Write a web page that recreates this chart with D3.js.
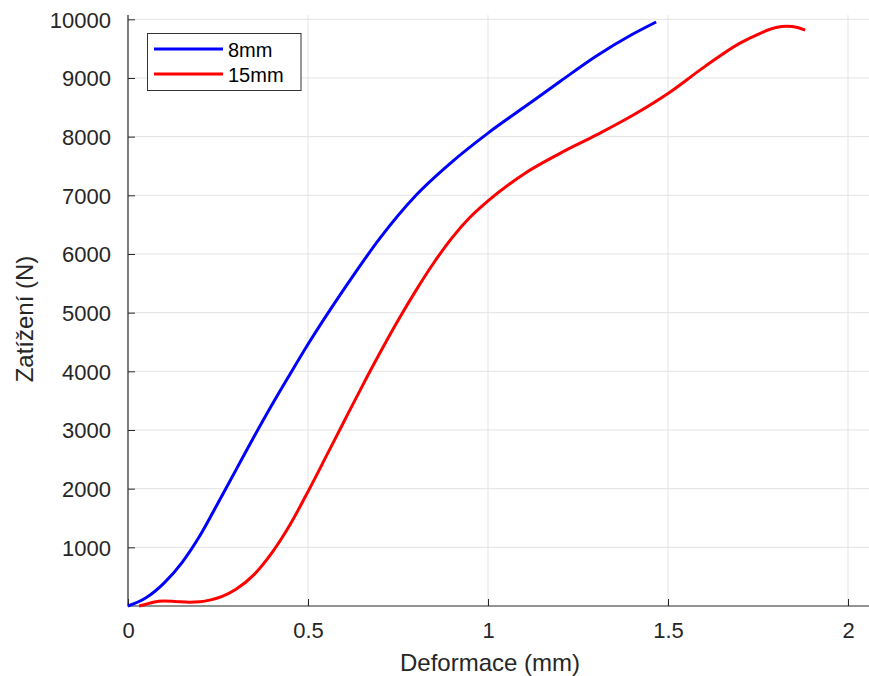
<!DOCTYPE html>
<html>
<head>
<meta charset="utf-8">
<script src="https://cdn.jsdelivr.net/npm/d3@7"></script>
<style>
  html, body { margin: 0; padding: 0; background: #fff; }
  svg { display: block; font-family: "Liberation Sans", Arial, Helvetica, sans-serif; }
</style>
</head>
<body>
<svg id="chart" width="869" height="676"></svg>
<script>
// ---- data ----
const seriesNames = ["8mm", "15mm"];
const seriesColors = ["#0000ff", "#ff0000"];
const x8mm = [0, 0.05, 0.1, 0.15, 0.2, 0.25, 0.3, 0.35, 0.4, 0.45, 0.5, 0.6, 0.7, 0.8, 0.9, 1.0, 1.1, 1.2, 1.3, 1.4, 1.467];
const y8mm = [0, 140, 390, 740, 1200, 1755, 2320, 2885, 3430, 3950, 4460, 5400, 6270, 7000, 7570, 8060, 8500, 8940, 9370, 9740, 9954];
const x15mm = [0.031, 0.05, 0.07, 0.1, 0.13, 0.17, 0.2, 0.23, 0.26, 0.3, 0.35, 0.4, 0.45, 0.5, 0.55, 0.6, 0.65, 0.7, 0.75, 0.8, 0.85, 0.9, 0.95, 1.0, 1.1, 1.2, 1.3, 1.4, 1.5, 1.6, 1.7, 1.75, 1.8, 1.83, 1.86, 1.881];
const y15mm = [0, 30, 65, 85, 78, 65, 72, 105, 160, 285, 535, 910, 1385, 1950, 2545, 3145, 3740, 4315, 4865, 5380, 5855, 6275, 6625, 6905, 7365, 7715, 8025, 8355, 8735, 9185, 9595, 9745, 9860, 9880, 9860, 9815];
const xTicks = [0, 0.5, 1, 1.5, 2];
const yTicks = [1000, 2000, 3000, 4000, 5000, 6000, 7000, 8000, 9000, 10000];
const xLabel = "Deformace (mm)";
const yLabel = "Zatížení (N)";

// ---- layout ----
const svg = d3.select("#chart");
const pLeft = 128, pRight = 869, pTop = 15, pBottom = 606;
const x = d3.scaleLinear().domain([0, (pRight - pLeft) / 360]).range([pLeft, pRight]);
const y = d3.scaleLinear().domain([0, 10000]).range([pBottom, pBottom - 586.7]);
const axisColor = "#262626";
const gridColor = "#e3e3e3";

// grid
svg.append("g").selectAll("line").data(xTicks.filter(d => d > 0)).join("line")
  .attr("x1", d => x(d)).attr("x2", d => x(d)).attr("y1", pTop).attr("y2", pBottom)
  .attr("stroke", gridColor).attr("stroke-width", 1);
svg.append("g").selectAll("line").data(yTicks).join("line")
  .attr("x1", pLeft).attr("x2", pRight).attr("y1", d => y(d)).attr("y2", d => y(d))
  .attr("stroke", gridColor).attr("stroke-width", 1);

// axes
const xAxis = d3.axisBottom(x).tickValues(xTicks).tickSize(-7).tickPadding(0)
  .tickFormat(d => d3.format("~g")(d));
const gx = svg.append("g").attr("transform", `translate(0,${pBottom})`).call(xAxis);
gx.select(".domain").remove();
gx.selectAll(".tick line").attr("stroke", axisColor);
gx.selectAll(".tick text").attr("fill", axisColor).attr("font-size", 22)
  .attr("y", 32).attr("dy", 0);

const yAxis = d3.axisLeft(y).tickValues(yTicks).tickSize(-7).tickPadding(0)
  .tickFormat(d3.format("d"));
const gy = svg.append("g").attr("transform", `translate(${pLeft},0)`).call(yAxis);
gy.select(".domain").remove();
gy.selectAll(".tick line").attr("stroke", axisColor);
gy.selectAll(".tick text").attr("fill", axisColor).attr("font-size", 22)
  .attr("x", -17).attr("dy", "0.36em");
svg.selectAll(".tick text").attr("font-family", "'Liberation Sans', Arial, sans-serif");

svg.append("line").attr("x1", pLeft).attr("x2", pLeft).attr("y1", pTop).attr("y2", pBottom + 0.5)
  .attr("stroke", axisColor).attr("stroke-width", 1.2);
svg.append("line").attr("x1", pLeft).attr("x2", pRight).attr("y1", pBottom).attr("y2", pBottom)
  .attr("stroke", axisColor).attr("stroke-width", 1.2);

// labels
svg.append("text").attr("x", 490).attr("y", 671).attr("text-anchor", "middle")
  .attr("font-size", 24).attr("fill", axisColor).text(xLabel);
svg.append("text").attr("transform", "translate(33,319) rotate(-90)").attr("text-anchor", "middle")
  .attr("font-size", 24).attr("fill", axisColor).text(yLabel);

// lines
const series = [
  { name: seriesNames[0], color: seriesColors[0], pts: x8mm.map((d, i) => [d, y8mm[i]]) },
  { name: seriesNames[1], color: seriesColors[1], pts: x15mm.map((d, i) => [d, y15mm[i]]) }
];
const line = d3.line().x(d => x(d[0])).y(d => y(d[1])).curve(d3.curveMonotoneX);
svg.append("g").selectAll("path").data(series).join("path")
  .attr("d", d => line(d.pts)).attr("fill", "none")
  .attr("stroke", d => d.color).attr("stroke-width", 3).attr("stroke-linejoin", "round");

// legend
const lg = svg.append("g");
lg.append("rect").attr("x", 147.5).attr("y", 33.5).attr("width", 153.5).attr("height", 57)
  .attr("fill", "#fff").attr("stroke", "#333").attr("stroke-width", 1);
series.forEach((s, i) => {
  const cy = 49 + i * 25;
  lg.append("line").attr("x1", 154).attr("x2", 223).attr("y1", cy).attr("y2", cy)
    .attr("stroke", s.color).attr("stroke-width", 3);
  lg.append("text").attr("x", 228).attr("y", cy + 8).attr("font-size", 20)
    .attr("fill", "#000").text(s.name);
});
</script>
</body>
</html>
